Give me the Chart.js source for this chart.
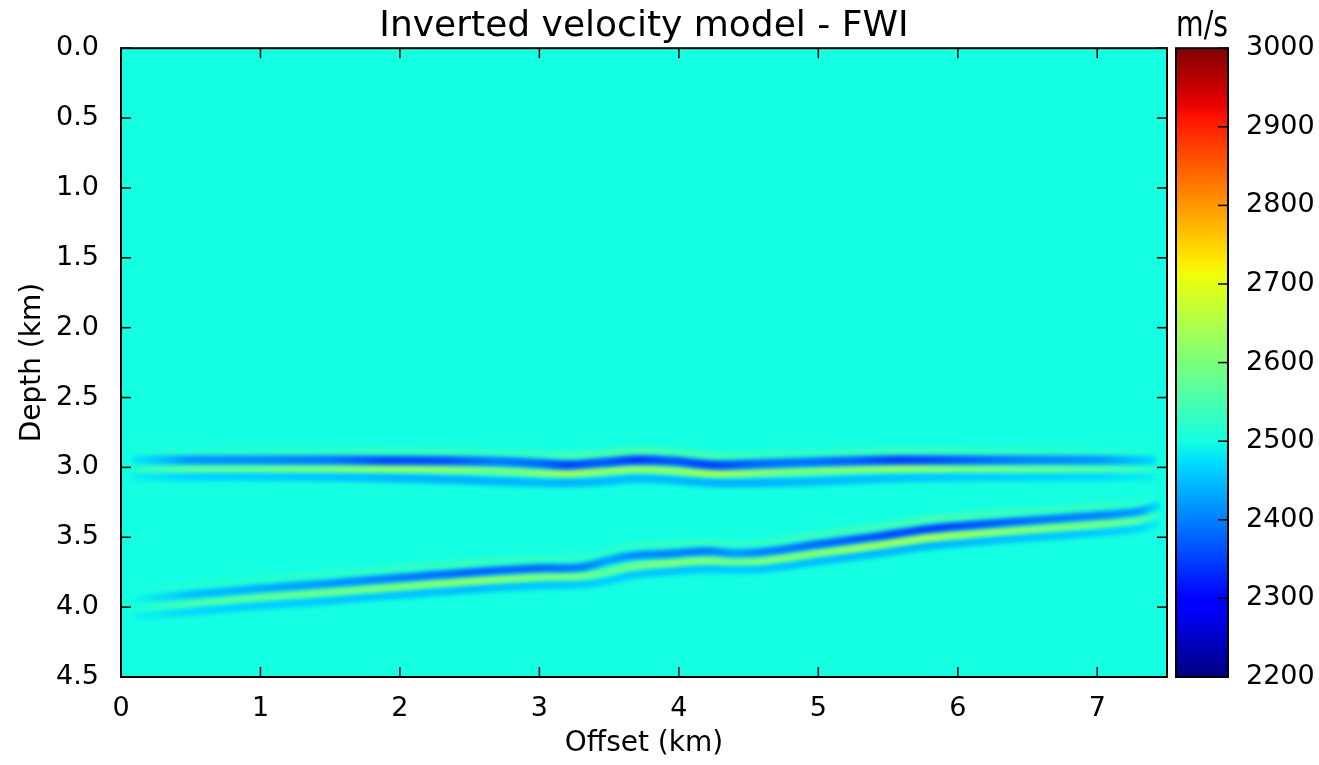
<!DOCTYPE html>
<html>
<head>
<meta charset="utf-8">
<title>Inverted velocity model - FWI</title>
<script src="https://cdn.jsdelivr.net/npm/chart.js@4.4.1/dist/chart.umd.min.js"></script>
<style>
  html, body { margin: 0; padding: 0; background: #fff; }
  #model { position: absolute; left: 0; top: 0; }
  #colorbar { position: absolute; left: 1160px; top: 0; }
</style>
</head>
<body>
<canvas id="model" width="1175" height="765"></canvas>
<canvas id="colorbar" width="159" height="765"></canvas>
<script>
// velocity range of the colour scale (m/s) and the background medium
const vMin = 2200;
const vMax = 3000;
const bgVelocity = 2500;

// tick labels
const offsetTicks = [0, 1, 2, 3, 4, 5, 6, 7];
const depthTicks = [0.0, 0.5, 1.0, 1.5, 2.0, 2.5, 3.0, 3.5, 4.0, 4.5];
const velocityTicks = [2200, 2300, 2400, 2500, 2600, 2700, 2800, 2900, 3000];

// upper (flat) reflector, ~3 km : offsets (km), depths (km) and velocities (m/s) of each band
const upperX = [0.08, 0.5, 1.0, 1.5, 1.9, 2.3, 2.7, 3.0, 3.2, 3.45, 3.7, 3.95, 4.25, 4.55, 4.85, 5.2, 5.6, 6.0, 6.5, 7.0, 7.42];
const upperHaloDepth = [2.89, 2.89, 2.89, 2.89, 2.89, 2.892, 2.898, 2.91, 2.92, 2.905, 2.888, 2.895, 2.92, 2.915, 2.905, 2.895, 2.888, 2.888, 2.89, 2.89, 2.89];
const upperHaloVel = [2505, 2515, 2520, 2525, 2530, 2530, 2525, 2530, 2540, 2545, 2550, 2540, 2540, 2530, 2525, 2530, 2535, 2530, 2525, 2515, 2505];
const upperLowDepth = [2.947, 2.947, 2.947, 2.947, 2.95, 2.952, 2.958, 2.972, 2.983, 2.965, 2.947, 2.955, 2.983, 2.975, 2.965, 2.955, 2.947, 2.947, 2.947, 2.947, 2.95];
const upperLowVel = [2485, 2415, 2405, 2390, 2355, 2360, 2395, 2380, 2350, 2370, 2340, 2365, 2350, 2380, 2390, 2375, 2345, 2370, 2400, 2415, 2470];
const upperHighDepth = [3.005, 3.005, 3.005, 3.005, 3.005, 3.01, 3.02, 3.035, 3.04, 3.025, 3.01, 3.02, 3.04, 3.035, 3.025, 3.012, 3.003, 3.005, 3.006, 3.006, 3.008];
const upperHighVel = [2520, 2570, 2580, 2600, 2625, 2620, 2590, 2610, 2640, 2625, 2620, 2620, 2645, 2615, 2600, 2610, 2630, 2600, 2580, 2560, 2520];
const upperTailDepth = [3.066, 3.066, 3.066, 3.068, 3.075, 3.085, 3.1, 3.108, 3.11, 3.1, 3.08, 3.09, 3.11, 3.11, 3.105, 3.09, 3.075, 3.07, 3.068, 3.066, 3.066];
const upperTailVel = [2490, 2465, 2460, 2455, 2445, 2440, 2440, 2445, 2440, 2445, 2450, 2445, 2440, 2440, 2445, 2450, 2455, 2460, 2465, 2470, 2490];

// lower (dipping) reflector
const lowerX = [0.1, 0.5, 1.0, 1.5, 2.0, 2.5, 3.0, 3.3, 3.48, 3.65, 3.9, 4.2, 4.4, 4.6, 5.0, 5.4, 5.8, 6.2, 6.6, 7.0, 7.3, 7.45];
const lowerHaloDepth = [3.88, 3.845, 3.80, 3.765, 3.725, 3.687, 3.657, 3.65, 3.605, 3.57, 3.555, 3.535, 3.55, 3.54, 3.485, 3.432, 3.375, 3.34, 3.31, 3.28, 3.25, 3.205];
const lowerHaloVel = [2502, 2510, 2515, 2520, 2525, 2530, 2525, 2520, 2515, 2520, 2525, 2525, 2520, 2525, 2530, 2535, 2540, 2535, 2530, 2525, 2515, 2502];
const lowerLowDepth = [3.945, 3.91, 3.866, 3.83, 3.79, 3.752, 3.722, 3.715, 3.67, 3.634, 3.62, 3.6, 3.615, 3.605, 3.55, 3.497, 3.44, 3.405, 3.375, 3.345, 3.315, 3.27];
const lowerLowVel = [2495, 2450, 2435, 2415, 2395, 2375, 2380, 2395, 2425, 2410, 2400, 2395, 2420, 2400, 2380, 2360, 2345, 2365, 2390, 2400, 2420, 2480];
const lowerHighDepth = [4.005, 3.97, 3.926, 3.89, 3.85, 3.812, 3.782, 3.775, 3.75, 3.71, 3.685, 3.665, 3.67, 3.665, 3.61, 3.557, 3.5, 3.465, 3.435, 3.405, 3.375, 3.33];
const lowerHighVel = [2510, 2550, 2570, 2585, 2600, 2615, 2600, 2590, 2570, 2585, 2600, 2605, 2590, 2600, 2610, 2630, 2640, 2620, 2600, 2590, 2565, 2515];
const lowerTailDepth = [4.065, 4.03, 3.986, 3.95, 3.91, 3.872, 3.842, 3.835, 3.81, 3.77, 3.745, 3.725, 3.73, 3.725, 3.67, 3.617, 3.56, 3.525, 3.495, 3.465, 3.435, 3.39];
const lowerTailVel = [2492, 2470, 2462, 2458, 2455, 2450, 2455, 2460, 2465, 2460, 2455, 2455, 2460, 2455, 2450, 2445, 2445, 2450, 2455, 2460, 2468, 2490];

// matplotlib "jet" colour map
const jetR = [[0, 0], [0.35, 0], [0.66, 1], [0.89, 1], [1, 0.5]];
const jetG = [[0, 0], [0.125, 0], [0.375, 1], [0.64, 1], [0.91, 0], [1, 0]];
const jetB = [[0, 0.5], [0.11, 1], [0.34, 1], [0.65, 0], [1, 0]];

function interp(pts, t) {
    for (let i = 1; i < pts.length; i++) {
        if (t <= pts[i][0]) {
            const x0 = pts[i - 1][0], y0 = pts[i - 1][1], x1 = pts[i][0], y1 = pts[i][1];
            return y0 + (y1 - y0) * (t - x0) / (x1 - x0);
        }
    }
    return pts[pts.length - 1][1];
}

function jetAt(t) {
    t = Math.min(1, Math.max(0, t));
    return 'rgb(' + Math.round(255 * interp(jetR, t)) + ',' + Math.round(255 * interp(jetG, t)) + ',' + Math.round(255 * interp(jetB, t)) + ')';
}

function jet(v) {
    return jetAt((v - vMin) / (vMax - vMin));
}

// one band of a reflector: a smooth line whose colour follows the velocity along it
function band(xs, depths, vels, width, order) {
    return {
        data: xs.map((x, i) => ({ x: x, y: depths[i] })),
        showLine: true,
        pointRadius: 0,
        borderWidth: width,
        tension: 0.4,
        order: order,
        borderColor: ctx => {
            const chart = ctx.chart, a = chart.chartArea;
            if (!a) return jet(vels[0]);
            const sx = chart.scales.x;
            const g = chart.ctx.createLinearGradient(a.left, 0, a.right, 0);
            xs.forEach((x, i) => {
                const f = (sx.getPixelForValue(x) - a.left) / (a.right - a.left);
                g.addColorStop(Math.min(1, Math.max(0, f)), jet(vels[i]));
            });
            return g;
        }
    };
}

Chart.defaults.font.family = "'DejaVu Sans', sans-serif";
Chart.defaults.color = '#000';

const tickFont = { size: 27 };
const labelFont = { size: 28 };
const titleFont = { size: 36, weight: 'normal' };

function line(c, x0, y0, x1, y1) {
    c.beginPath();
    c.moveTo(x0, y0);
    c.lineTo(x1, y1);
    c.stroke();
}

const modelFrame = {
    id: 'modelFrame',
    beforeDraw(chart) {
        const a = chart.chartArea, c = chart.ctx;
        c.save();
        c.fillStyle = jet(bgVelocity);
        c.fillRect(a.left, a.top, a.right - a.left, a.bottom - a.top);
        c.restore();
    },
    beforeDatasetsDraw(chart) {
        chart.ctx.save();
        chart.ctx.filter = 'blur(2.2px)';
    },
    afterDatasetsDraw(chart) {
        chart.ctx.restore();
    },
    afterDraw(chart) {
        const a = chart.chartArea, c = chart.ctx;
        const xs = chart.scales.x, ys = chart.scales.y;
        c.save();
        c.strokeStyle = '#000';
        c.lineWidth = 1.5;
        xs.ticks.forEach(t => {
            const px = xs.getPixelForValue(t.value);
            line(c, px, a.bottom, px, a.bottom - 10);
            line(c, px, a.top, px, a.top + 10);
        });
        ys.ticks.forEach(t => {
            const py = ys.getPixelForValue(t.value);
            line(c, a.left, py, a.left + 10, py);
            line(c, a.right, py, a.right - 10, py);
        });
        c.lineWidth = 2;
        c.strokeRect(a.left, a.top, a.right - a.left, a.bottom - a.top);
        c.restore();
    }
};

new Chart(document.getElementById('model'), {
    type: 'scatter',
    data: {
        datasets: [
            band(upperX, upperHaloDepth, upperHaloVel, 9, 5),
            band(upperX, upperTailDepth, upperTailVel, 9, 4),
            band(upperX, upperHighDepth, upperHighVel, 8, 3),
            band(upperX, upperLowDepth, upperLowVel, 9, 2),
            band(lowerX, lowerHaloDepth, lowerHaloVel, 9, 5),
            band(lowerX, lowerTailDepth, lowerTailVel, 9, 4),
            band(lowerX, lowerHighDepth, lowerHighVel, 8, 3),
            band(lowerX, lowerLowDepth, lowerLowVel, 8, 2)
        ]
    },
    options: {
        responsive: false,
        animation: false,
        layout: { padding: { left: 12, right: 8, top: 0, bottom: 0 } },
        plugins: {
            legend: { display: false },
            tooltip: { enabled: false },
            title: {
                display: true,
                text: 'Inverted velocity model - FWI',
                fullSize: false,
                font: titleFont,
                padding: { top: 5, bottom: 0 }
            }
        },
        scales: {
            x: {
                type: 'linear',
                min: 0,
                max: 7.5,
                grid: { display: false },
                border: { display: false },
                afterBuildTicks: scale => { scale.ticks = offsetTicks.map(v => ({ value: v })); },
                afterFit: scale => { scale.height = 88; },
                ticks: { font: tickFont, padding: 8, maxRotation: 0, callback: v => String(v) },
                title: { display: true, text: 'Offset (km)', font: labelFont, padding: { top: 4, bottom: 4 } }
            },
            y: {
                type: 'linear',
                min: 0,
                max: 4.5,
                reverse: true,
                grid: { display: false },
                border: { display: false },
                afterBuildTicks: scale => { scale.ticks = depthTicks.map(v => ({ value: v })); },
                afterFit: scale => { scale.width = 109; },
                ticks: { font: tickFont, padding: 14, callback: v => v.toFixed(1) },
                title: { display: true, text: 'Depth (km)', font: labelFont, padding: { top: 4, bottom: 4 } }
            }
        }
    },
    plugins: [modelFrame]
});

const barFrame = {
    id: 'barFrame',
    afterDraw(chart) {
        const a = chart.chartArea, c = chart.ctx;
        const ys = chart.scales.y;
        c.save();
        c.strokeStyle = '#000';
        c.lineWidth = 1.5;
        ys.ticks.forEach(t => {
            const py = ys.getPixelForValue(t.value);
            line(c, a.right, py, a.right - 10, py);
        });
        c.lineWidth = 2;
        c.strokeRect(a.left, a.top, a.right - a.left, a.bottom - a.top);
        c.restore();
    }
};

new Chart(document.getElementById('colorbar'), {
    type: 'bar',
    data: {
        labels: [''],
        datasets: [{
            data: [[vMin, vMax]],
            barPercentage: 1,
            categoryPercentage: 1,
            borderWidth: 0,
            backgroundColor: ctx => {
                const a = ctx.chart.chartArea;
                if (!a) return jet(bgVelocity);
                const g = ctx.chart.ctx.createLinearGradient(0, a.bottom, 0, a.top);
                for (let i = 0; i <= 64; i++) g.addColorStop(i / 64, jetAt(i / 64));
                return g;
            }
        }]
    },
    options: {
        responsive: false,
        animation: false,
        layout: { padding: { left: 16, right: 0, top: 0, bottom: 88 } },
        plugins: {
            legend: { display: false },
            tooltip: { enabled: false },
            title: {
                display: true,
                text: 'm/s',
                fullSize: false,
                font: titleFont,
                padding: { top: 5, bottom: 0 }
            }
        },
        scales: {
            x: { display: false },
            y: {
                position: 'right',
                min: vMin,
                max: vMax,
                grid: { display: false },
                border: { display: false },
                afterBuildTicks: scale => { scale.ticks = velocityTicks.map(v => ({ value: v })); },
                afterFit: scale => { scale.width = 91; },
                ticks: { font: tickFont, padding: 10, callback: v => String(v) }
            }
        }
    },
    plugins: [barFrame]
});
</script>
</body>
</html>
